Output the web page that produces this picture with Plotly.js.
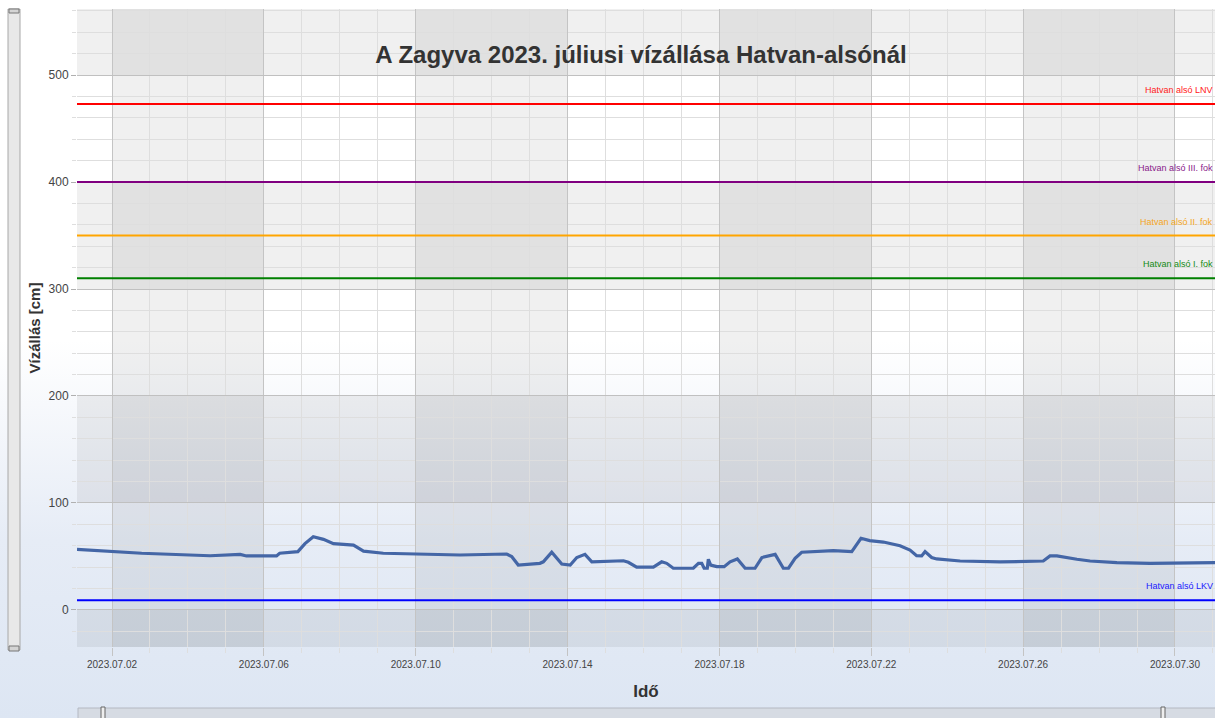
<!DOCTYPE html>
<html>
<head>
<meta charset="utf-8">
<script src="https://cdn.plot.ly/plotly-3.0.1.min.js"></script>
<style>
  html, body { margin: 0; padding: 0; }
  body { width: 1215px; height: 718px; overflow: hidden;
         background: linear-gradient(to bottom, #ffffff 0px, #ffffff 340px, #e6ecf6 540px, #dde6f3 718px); }
  #chart { width: 1215px; height: 718px; }
</style>
</head>
<body>
<div id="chart"></div>
<script>
// ---- data ----
const times = [
  '2023-07-01 01:52','2023-07-02 00:00','2023-07-02 18:45','2023-07-04 14:00','2023-07-05 09:00',
  '2023-07-05 13:00','2023-07-06 08:00','2023-07-06 10:00','2023-07-06 21:30','2023-07-07 02:00',
  '2023-07-07 07:15','2023-07-07 13:40','2023-07-07 20:00','2023-07-08 08:40','2023-07-08 15:00',
  '2023-07-09 03:30','2023-07-10 00:45','2023-07-11 04:00','2023-07-12 09:30','2023-07-12 12:40',
  '2023-07-12 16:50','2023-07-13 06:30','2023-07-13 08:40','2023-07-13 14:00','2023-07-13 20:20',
  '2023-07-14 01:40','2023-07-14 05:50','2023-07-14 11:00','2023-07-14 15:20','2023-07-15 11:20',
  '2023-07-15 14:25','2023-07-15 19:40','2023-07-16 06:15','2023-07-16 11:30','2023-07-16 14:40',
  '2023-07-16 18:50','2023-07-17 07:30','2023-07-17 10:45','2023-07-17 12:50','2023-07-17 14:20',
  '2023-07-17 16:20','2023-07-17 17:00','2023-07-17 18:30','2023-07-17 22:20','2023-07-18 03:00',
  '2023-07-18 06:45','2023-07-18 11:20','2023-07-18 16:15','2023-07-18 22:30','2023-07-19 02:50',
  '2023-07-19 11:15','2023-07-19 16:25','2023-07-19 19:40','2023-07-19 23:50','2023-07-20 04:00',
  '2023-07-21 00:00','2023-07-21 11:40','2023-07-21 13:45','2023-07-21 17:30','2023-07-21 23:00',
  '2023-07-22 07:40','2023-07-22 18:10','2023-07-23 00:30','2023-07-23 04:40','2023-07-23 07:50',
  '2023-07-23 10:00','2023-07-23 14:10','2023-07-23 17:20','2023-07-24 08:10','2023-07-25 09:25',
  '2023-07-26 12:45','2023-07-26 17:00','2023-07-26 21:20','2023-07-27 10:00','2023-07-27 18:20',
  '2023-07-28 11:15','2023-07-29 08:15','2023-07-31 01:18'
];
const waterLevel = [
  56.7,55,53,50.7,52,
  50.5,50.5,53,54.5,62,
  68.5,66,62,60.7,55,
  53,52.3,51.4,52.3,50,
  42,43.6,45,54,43,
  42,49,52,45,46,
  44.6,40,40,45,43.6,
  39,39,43.6,43.6,39,
  39,47.4,42,40.5,40.5,
  45,47.7,39,39,49,
  52,39,39,48.3,54,
  55.4,54.5,59,67,64.8,
  63.5,60,56,50.7,50.5,
  54.5,49,47.7,45.8,44.9,
  45.8,50.5,50.5,47.4,45.8,
  44.2,43.6,44.2
];
const levelNames = ['Hatvan alsó LNV','Hatvan alsó III. fok','Hatvan alsó II. fok','Hatvan alsó I. fok','Hatvan alsó LKV'];
const levelValues = [473, 400, 350, 310, 9];
const bandDates = ['2023-07-02','2023-07-06','2023-07-10','2023-07-14','2023-07-18','2023-07-22','2023-07-26','2023-07-30'];
const bandLevels = [-100, 0, 100, 200, 300, 400, 500, 600];

// ---- styles ----
const levelColors = ['#ff0000','#800080','#ffa500','#008000','#0000ff'];
const labelColors = ['#ff2020','#8a1a8a','#f5a623','#138a13','#1a1aff'];
const FONT = 'Liberation Sans, Arial, sans-serif';
const DAY = 86400000;

const shapes = [];
// checkerboard bands
for (let i = 0; i + 1 < bandDates.length; i += 2) {
  shapes.push({type:'rect', layer:'below', xref:'x', yref:'paper', x0:bandDates[i], x1:bandDates[i+1], y0:0, y1:1,
               fillcolor:'rgba(0,0,0,0.06)', line:{width:0}});
}
for (let i = 0; i + 1 < bandLevels.length; i += 2) {
  shapes.push({type:'rect', layer:'below', xref:'paper', yref:'y', x0:0, x1:1, y0:bandLevels[i], y1:bandLevels[i+1],
               fillcolor:'rgba(0,0,0,0.06)', line:{width:0}});
}
// level lines
levelValues.forEach((v, i) => {
  shapes.push({type:'line', layer:'above', xref:'paper', yref:'y', x0:0, x1:1, y0:v, y1:v,
               line:{color:levelColors[i], width:2}});
});
// decorative scrollbars (paper coords)
const W = 1138, H = 638, L = 77, B = 647;
const px = p => (p - L) / W, py = p => (B - p) / H;
shapes.push({type:'rect', layer:'above', xref:'paper', yref:'paper', x0:px(8), x1:px(20), y0:py(650), y1:py(9),
             fillcolor:'#e8e8e8', line:{color:'#a8a8a8', width:1}});
shapes.push({type:'rect', layer:'above', xref:'paper', yref:'paper', x0:px(9), x1:px(19), y0:py(13), y1:py(9),
             fillcolor:'#d4d4d4', line:{color:'#777', width:1}});
shapes.push({type:'rect', layer:'above', xref:'paper', yref:'paper', x0:px(9), x1:px(19), y0:py(651), y1:py(646),
             fillcolor:'#d4d4d4', line:{color:'#777', width:1}});
shapes.push({type:'rect', layer:'above', xref:'paper', yref:'paper', x0:px(78), x1:px(1216), y0:py(720), y1:py(708),
             fillcolor:'#d6dbe3', line:{color:'#b4b9c2', width:1}});
shapes.push({type:'rect', layer:'above', xref:'paper', yref:'paper', x0:px(101), x1:px(105), y0:py(720), y1:py(707),
             fillcolor:'#eeeeee', line:{color:'#666', width:1}});
shapes.push({type:'rect', layer:'above', xref:'paper', yref:'paper', x0:px(1161), x1:px(1165), y0:py(720), y1:py(707),
             fillcolor:'#eeeeee', line:{color:'#666', width:1}});

const annotations = levelNames.map((n, i) => ({
  xref:'paper', yref:'y', x:1, y:levelValues[i], xanchor:'right', yanchor:'middle', yshift:14,
  text:n, showarrow:false, font:{family:FONT, size:9, color:labelColors[i]}
}));

const trace = {
  type:'scatter', mode:'lines', x:times, y:waterLevel,
  line:{color:'#4466a6', width:3.2}, hoverinfo:'x+y', showlegend:false
};

const layout = {
  width:1215, height:718,
  margin:{l:77, r:0, t:9, b:71},
  paper_bgcolor:'rgba(0,0,0,0)', plot_bgcolor:'rgba(0,0,0,0)',
  showlegend:false,
  title:{text:'A Zagyva 2023. júliusi vízállása Hatvan-alsónál', xref:'paper', x:(641-77)/1138, xanchor:'center',
         yref:'container', y:1-55/718, yanchor:'middle', font:{family:FONT, size:24, color:'#333', weight:'bold'}},
  xaxis:{
    type:'date', range:['2023-07-01 01:52','2023-07-31 01:18'],
    tick0:'2023-07-02', dtick:4*DAY, tickformat:'%Y.%m.%d',
    showgrid:true, gridcolor:'#c4c4c4', gridwidth:1,
    ticks:'outside', ticklen:8, tickcolor:'#c4c4c4',
    tickfont:{family:FONT, size:10, color:'#444'},
    minor:{dtick:DAY, tick0:'2023-07-02', showgrid:true, gridcolor:'#dedede', ticks:'outside', ticklen:5, tickcolor:'#dedede'},
    showline:false, zeroline:false, fixedrange:true,
    title:{text:'Idő', standoff:16, font:{family:FONT, size:17, color:'#333', weight:'bold'}}
  },
  yaxis:{
    range:[-34.6, 561.7], tick0:0, dtick:100,
    showgrid:true, gridcolor:'#c0c0c0', gridwidth:1,
    ticks:'outside', ticklen:5, tickcolor:'#b0b0b0',
    tickfont:{family:FONT, size:12, color:'#444'},
    minor:{dtick:20, showgrid:true, gridcolor:'#dedede', ticks:'outside', ticklen:4, tickcolor:'#dedede'},
    showline:false, zeroline:false, fixedrange:true,
    title:{text:'Vízállás [cm]', standoff:4, font:{family:FONT, size:15, color:'#333', weight:'bold'}}
  },
  shapes:shapes, annotations:annotations
};

Plotly.newPlot('chart', [trace], layout, {displayModeBar:false, staticPlot:true});
</script>
</body>
</html>
